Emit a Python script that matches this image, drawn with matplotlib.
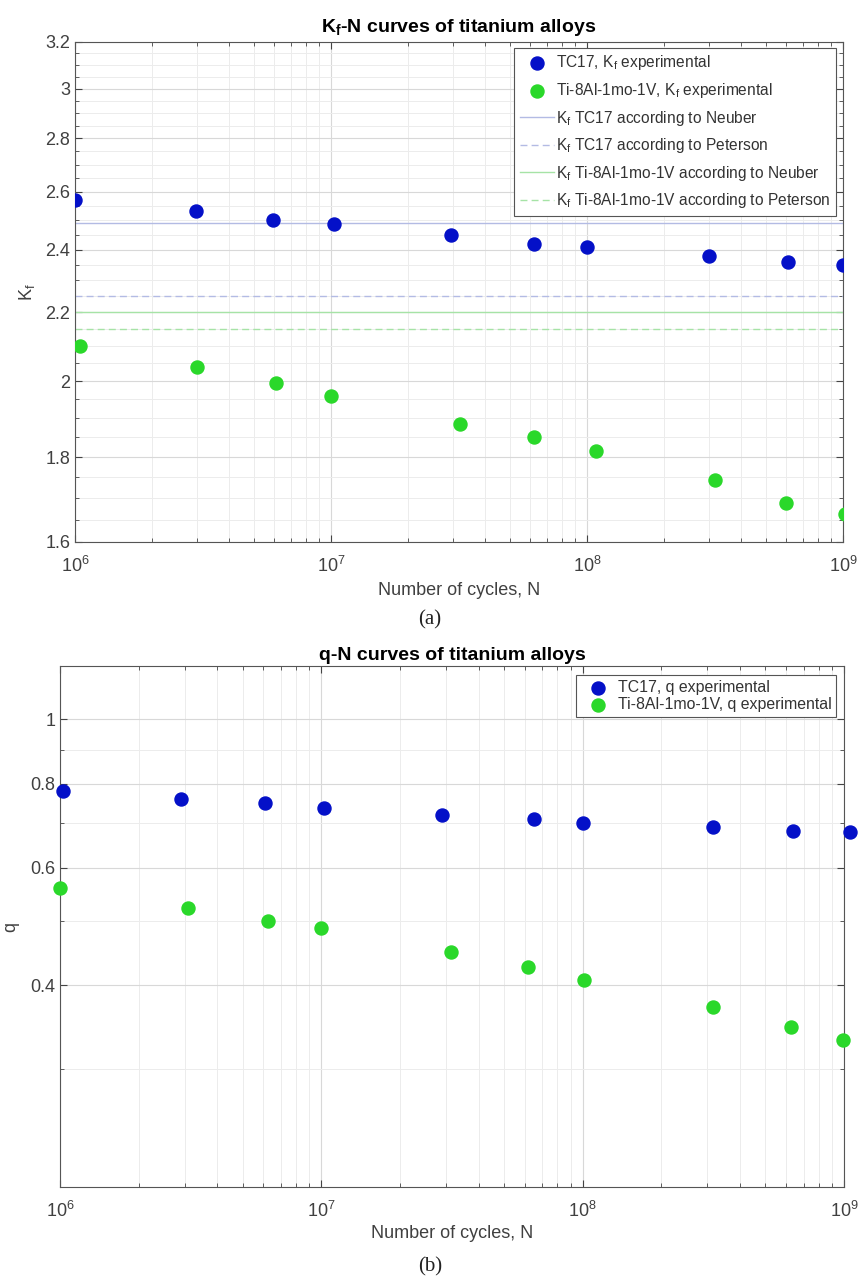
import matplotlib
matplotlib.use("Agg")
import matplotlib.pyplot as plt
from matplotlib.ticker import FixedLocator, NullFormatter, FixedFormatter, LogLocator

plt.rcParams['font.family'] = ['Liberation Sans', 'DejaVu Sans']
plt.rcParams['mathtext.fontset'] = 'custom'
plt.rcParams['mathtext.rm'] = 'Liberation Sans'
plt.rcParams['mathtext.it'] = 'Liberation Sans:italic'
plt.rcParams['mathtext.bf'] = 'Liberation Sans:bold'

# ---------------- data: panel (a) ----------------
N_tc17_a = [1.0e6, 2.97e6, 5.94e6, 1.03e7, 2.95e7, 6.2e7, 1.0e8, 3.0e8, 6.1e8, 1.0e9]
Kf_tc17 = [2.57, 2.53, 2.50, 2.485, 2.45, 2.42, 2.41, 2.38, 2.36, 2.35]
N_ti_a = [1.05e6, 3.0e6, 6.1e6, 1.0e7, 3.2e7, 6.2e7, 1.08e8, 3.15e8, 6.0e8, 1.02e9]
Kf_ti = [2.10, 2.04, 1.995, 1.96, 1.885, 1.85, 1.815, 1.744, 1.69, 1.663]
Kf_tc17_neuber = 2.49
Kf_tc17_peterson = 2.25
Kf_ti_neuber = 2.20
Kf_ti_peterson = 2.15

# ---------------- data: panel (b) ----------------
N_tc17_b = [1.03e6, 2.9e6, 6.1e6, 1.02e7, 2.9e7, 6.5e7, 1.0e8, 3.15e8, 6.4e8, 1.05e9]
q_tc17 = [0.781, 0.760, 0.750, 0.737, 0.720, 0.710, 0.700, 0.689, 0.681, 0.677]
N_ti_b = [1.0e6, 3.1e6, 6.25e6, 1.0e7, 3.13e7, 6.18e7, 1.01e8, 3.15e8, 6.28e8, 9.9e8]
q_ti = [0.559, 0.522, 0.499, 0.487, 0.449, 0.426, 0.408, 0.372, 0.347, 0.332]

# axis ticks
x_range = [1e6, 1e9]
a_yticks = [1.6, 1.8, 2.0, 2.2, 2.4, 2.6, 2.8, 3.0, 3.2]
a_yticklabels = ['1.6', '1.8', '2', '2.2', '2.4', '2.6', '2.8', '3', '3.2']
a_yminor = [1.65, 1.7, 1.75, 1.85, 1.9, 1.95, 2.05, 2.1, 2.15, 2.25, 2.3, 2.35,
            2.45, 2.5, 2.55, 2.65, 2.7, 2.75, 2.85, 2.9, 2.95, 3.05, 3.1, 3.15]
b_yticks = [0.4, 0.6, 0.8, 1.0]
b_yticklabels = ['0.4', '0.6', '0.8', '1']
b_yminor = [0.3, 0.5, 0.7, 0.9]

BLUE = '#0410c8'
GREEN = '#2ad82a'
BLUE_LINE = '#b3bbe4'
GREEN_LINE = '#a6e3a6'
TXT = '#404040'

W, H = 858, 1281
fig = plt.figure(figsize=(W / 100, H / 100), dpi=100)

ax1 = fig.add_axes([75 / W, 1 - 542 / H, (843 - 75) / W, 500 / H])
ax2 = fig.add_axes([60 / W, 1 - 1187 / H, (844 - 60) / W, 521 / H])


def style_axes(ax, yticks, ylabels, yminor):
    ax.set_xscale('log')
    ax.set_yscale('log')
    ax.set_xlim(x_range)
    ax.xaxis.set_major_locator(LogLocator(base=10, numticks=10))
    ax.xaxis.set_minor_locator(LogLocator(base=10, subs=[2, 3, 4, 5, 6, 7, 8, 9], numticks=20))
    ax.xaxis.set_minor_formatter(NullFormatter())
    ax.yaxis.set_major_locator(FixedLocator(yticks))
    ax.yaxis.set_major_formatter(FixedFormatter(ylabels))
    ax.yaxis.set_minor_locator(FixedLocator(yminor))
    ax.yaxis.set_minor_formatter(NullFormatter())
    ax.tick_params(which='both', direction='in', top=True, right=True, colors='#444444',
                   labelcolor=TXT, labelsize=13)
    ax.tick_params(which='major', length=5, width=0.8)
    ax.tick_params(which='minor', length=3, width=0.6)
    ax.tick_params(axis='x', which='major', pad=10)
    ax.grid(True, which='major', color='#d8d8d8', lw=0.8)
    ax.grid(True, which='minor', color='#ececec', lw=0.7)
    ax.set_axisbelow(True)
    for s in ax.spines.values():
        s.set_color('#555555')
        s.set_linewidth(0.8)


# ---------------- panel (a) ----------------
style_axes(ax1, a_yticks, a_yticklabels, a_yminor)
ax1.set_ylim(1.6, 3.2)
ax1.scatter(N_tc17_a, Kf_tc17, s=88, color=BLUE, zorder=5,
            label=r'TC17, $\mathregular{K_f}$ experimental')
ax1.scatter(N_ti_a, Kf_ti, s=88, color=GREEN, zorder=5,
            label=r'Ti-8Al-1mo-1V, $\mathregular{K_f}$ experimental')
ax1.plot(x_range, [Kf_tc17_neuber] * 2, color=BLUE_LINE, lw=1.0,
         label=r'$\mathregular{K_f}$ TC17 according to Neuber')
ax1.plot(x_range, [Kf_tc17_peterson] * 2, color=BLUE_LINE, lw=1.0, dashes=(5, 3),
         label=r'$\mathregular{K_f}$ TC17 according to Peterson')
ax1.plot(x_range, [Kf_ti_neuber] * 2, color=GREEN_LINE, lw=1.0,
         label=r'$\mathregular{K_f}$ Ti-8Al-1mo-1V according to Neuber')
ax1.plot(x_range, [Kf_ti_peterson] * 2, color=GREEN_LINE, lw=1.0, dashes=(5, 3),
         label=r'$\mathregular{K_f}$ Ti-8Al-1mo-1V according to Peterson')
ax1.set_title(r'$\mathbf{K_f}$-N curves of titanium alloys', fontsize=14,
              fontweight='bold', pad=7)
ax1.set_xlabel('Number of cycles, N', fontsize=13, color=TXT, labelpad=4)
ax1.set_ylabel(r'$\mathregular{K_f}$', fontsize=13, color=TXT, labelpad=6)
leg1 = ax1.legend(loc='upper right', bbox_to_anchor=(0.991, 0.988), borderaxespad=0,
                  fontsize=11.2, frameon=True, fancybox=False, framealpha=1,
                  edgecolor='#555555', handlelength=2.2, handletextpad=0.15,
                  labelspacing=0.55, borderpad=0.35, scatterpoints=1)
leg1.get_frame().set_linewidth(0.8)
for t in leg1.get_texts():
    t.set_color('#333333')

# ---------------- panel (b) ----------------
style_axes(ax2, b_yticks, b_yticklabels, b_yminor)
ax2.set_ylim(0.2, 1.2)
ax2.scatter(N_tc17_b, q_tc17, s=88, color=BLUE, zorder=5, clip_on=False,
            label='TC17, q experimental')
ax2.scatter(N_ti_b, q_ti, s=88, color=GREEN, zorder=5, clip_on=False,
            label='Ti-8Al-1mo-1V, q experimental')
ax2.set_title('q-N curves of titanium alloys', fontsize=14, fontweight='bold', pad=4)
ax2.set_xlabel('Number of cycles, N', fontsize=13, color=TXT, labelpad=3)
ax2.set_ylabel('q', fontsize=13, color=TXT, labelpad=8)
leg2 = ax2.legend(loc='upper right', bbox_to_anchor=(0.99, 0.982), borderaxespad=0,
                  fontsize=11.4, frameon=True, fancybox=False, framealpha=1,
                  edgecolor='#555555', handlelength=2.2, handletextpad=0.15,
                  labelspacing=0.12, borderpad=0.3, scatterpoints=1)
leg2.get_frame().set_linewidth(0.8)
for t in leg2.get_texts():
    t.set_color('#333333')

# captions
fig.text(430 / W, 1 - 620 / H, '(a)', ha='center', va='center', fontsize=15,
         family=['Liberation Serif', 'DejaVu Serif'], color='#222222')
fig.text(430 / W, 1 - 1267 / H, '(b)', ha='center', va='center', fontsize=15,
         family=['Liberation Serif', 'DejaVu Serif'], color='#222222')

fig.savefig('out.png', dpi=100)
